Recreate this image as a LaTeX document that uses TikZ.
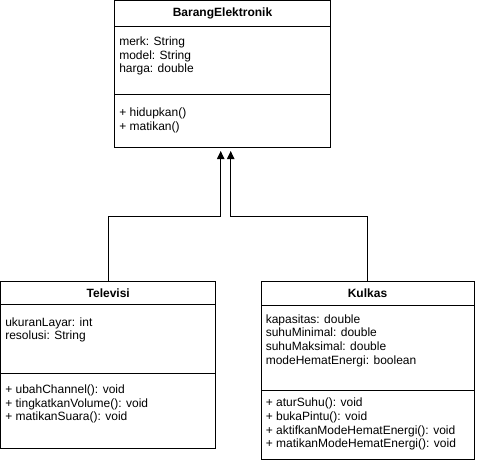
\documentclass[tikz,border=0pt]{standalone}
\usepackage{fontspec}
\setmainfont{Liberation Sans}
\usetikzlibrary{arrows.meta}
\begin{document}
\begin{tikzpicture}[x=0.75pt,y=-0.75pt,
  part/.style={draw, line width=0.75pt, anchor=north west, inner sep=0pt, outer sep=0pt},
  head/.style={part, font=\bfseries\fontsize{9}{11}\selectfont},
  mem/.style={anchor=base west, inner sep=0pt, font=\fontsize{9}{11}\selectfont},
  inherit/.style={line width=0.75pt, -{Triangle[length=6pt,width=5.5pt]}}]
\useasboundingbox (0,0) rectangle (478,464);

% BarangElektronik
\node[head, minimum width=162pt, minimum height=19.5pt] (be-head) at (114.5,0.5) {BarangElektronik};
\node[part, minimum width=162pt, minimum height=51pt] (be-attr) at (be-head.south west) {};
\node[part, minimum width=162pt, minimum height=40.1pt] (be-meth) at (be-attr.south west) {};
\node[mem] (be-a1) at (119,45.5) {merk: String};
\node[mem] (be-a2) at (119,59) {model: String};
\node[mem] (be-a3) at (119,72.5) {harga: double};
\node[mem] (be-m1) at (119,116.5) {+ hidupkan()};
\node[mem] (be-m2) at (119,130) {+ matikan()};

% Televisi
\node[head, minimum width=161.6pt, minimum height=17.6pt] (tv-head) at (0.5,281.5) {Televisi};
\node[part, minimum width=161.6pt, minimum height=51.4pt] (tv-attr) at (tv-head.south west) {};
\node[part, minimum width=161.6pt, minimum height=56.6pt] (tv-meth) at (tv-attr.south west) {};
\node[mem] (tv-a1) at (5,326.5) {ukuranLayar: int};
\node[mem] (tv-a2) at (5,339.5) {resolusi: String};
\node[mem] (tv-m1) at (5,393.5) {+ ubahChannel(): void};
\node[mem] (tv-m2) at (5,407) {+ tingkatkanVolume(): void};
\node[mem] (tv-m3) at (5,420.7) {+ matikanSuara(): void};

% Kulkas
\node[head, minimum width=159.75pt, minimum height=18pt] (ku-head) at (261,281.5) {Kulkas};
\node[part, minimum width=159.75pt, minimum height=63.4pt] (ku-attr) at (ku-head.south west) {};
\node[part, minimum width=159.75pt, minimum height=51.75pt] (ku-meth) at (ku-attr.south west) {};
\node[mem] (ku-a1) at (265.5,323) {kapasitas: double};
\node[mem] (ku-a2) at (265.5,336.7) {suhuMinimal: double};
\node[mem] (ku-a3) at (265.5,350.3) {suhuMaksimal: double};
\node[mem] (ku-a4) at (265.5,364) {modeHematEnergi: boolean};
\node[mem] (ku-m1) at (265.5,406.7) {+ aturSuhu(): void};
\node[mem] (ku-m2) at (265.5,420.7) {+ bukaPintu(): void};
\node[mem] (ku-m3) at (265.5,434.3) {+ aktifkanModeHematEnergi(): void};
\node[mem] (ku-m4) at (265.5,447.7) {+ matikanModeHematEnergi(): void};

% generalisation connectors
\coordinate (tipL) at (220.7,151);
\coordinate (tipR) at (230.7,151);
\coordinate (mid) at (0,216);
\draw[inherit] (tv-head.north) -- (tv-head.north |- mid) -| (tipL);
\draw[inherit] (ku-head.north) -- (ku-head.north |- mid) -| (tipR);
\end{tikzpicture}
\end{document}
